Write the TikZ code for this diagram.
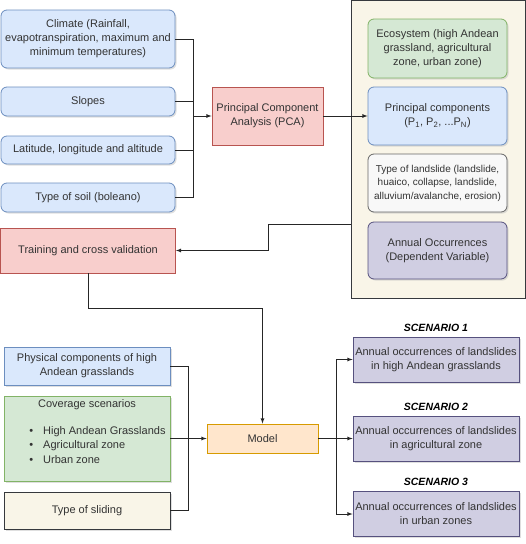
\documentclass[tikz,border=0pt]{standalone}
\usepackage{fontspec}
\setmainfont{Liberation Sans}
\usetikzlibrary{shadows}

\definecolor{blueFill}{HTML}{DAE8FC}
\definecolor{blueLine}{HTML}{6C8EBF}
\definecolor{greenFill}{HTML}{D5E8D4}
\definecolor{greenLine}{HTML}{82B366}
\definecolor{redFill}{HTML}{F8CECC}
\definecolor{redLine}{HTML}{B85450}
\definecolor{orangeFill}{HTML}{FFE6CC}
\definecolor{orangeLine}{HTML}{D79B00}
\definecolor{lilacFill}{HTML}{D0CEE2}
\definecolor{lilacLine}{HTML}{56517E}
\definecolor{paperFill}{HTML}{F9F5E8}
\definecolor{paperLine}{HTML}{36393D}
\definecolor{greyFill}{HTML}{F8F8F8}
\definecolor{greyLine}{HTML}{666666}
\definecolor{ink}{HTML}{333333}

\begin{document}
\begin{tikzpicture}[x = 1pt, y = -1pt, > = latex,
	box/.style = {draw, line width = 0.8pt, align = center, text = ink, inner sep = 2pt,
		font = \fontsize{11}{14}\selectfont},
	boxshadow/.style = {drop shadow = {shadow xshift = 1.5pt, shadow yshift = -1.5pt, fill = black!25}},
	softbox/.style = {box, boxshadow, rounded corners = 6pt},
	hardbox/.style = {box, boxshadow},
	link/.style = {line width = 0.8pt, draw = black!85}]

	\useasboundingbox (0, 0) rectangle (526, 544);

	% Input variables
	
	\begin{scope}[every node/.style = {softbox, fill = blueFill, draw = blueLine, minimum width = 174}]
	
		\node [minimum height = 58] (clim) at (88, 39) {Climate (Rainfall,\\evapotranspiration, maximum and\\minimum temperatures)};
		\node [minimum height = 29] (slope) at (88, 101.5) {Slopes};
		\node [minimum height = 28] (latlon) at (88, 150) {Latitude, longitude and altitude};
		\node [minimum height = 29] (soil) at (88, 197.5) {Type of soil (boleano)};
	
	\end{scope}

	% PCA
	
	\node [box, fill = redFill, draw = redLine, minimum width = 111, minimum height = 58] (pca) at (267.5, 116) {Principal Component\\Analysis (PCA)};
	
	\coordinate (join) at (193, 116);
	
	\begin{scope}[link]
	
		\draw (clim.east) -| (join);
		\draw (soil.east) -| (join);
		\draw (slope.east) -- (slope.east -| join);
		\draw (latlon.east) -- (latlon.east -| join);
		\draw [->] (join) -- (pca.west);
	
	\end{scope}
	
	% Panel of components
	
	\node [draw = paperLine, fill = paperFill, line width = 0.8pt, minimum width = 174, minimum height = 297.5, inner sep = 0] (panel) at (438, 149.25) {};
	
	\begin{scope}[every node/.style = {softbox, minimum width = 139}]
	
		\node [fill = greenFill, draw = greenLine, minimum height = 59] (eco) at (437.5, 48.5) {Ecosystem (high Andean\\grassland, agricultural\\zone, urban zone)};
		\node [fill = blueFill, draw = blueLine, minimum height = 58] (pc) at (437.5, 116) {Principal components\\(P\textsubscript{1}, P\textsubscript{2}, ...P\textsubscript{N})};
		\node [fill = greyFill, draw = greyLine, minimum height = 58, font = \fontsize{10}{13.5}\selectfont] (kind) at (437.5, 183) {Type of landslide (landslide,\\huaico, collapse, landslide,\\alluvium/avalanche, erosion)};
		\node [fill = lilacFill, draw = lilacLine, minimum height = 57] (occ) at (437.5, 250.5) {Annual Occurrences\\(Dependent Variable)};
	
	\end{scope}
	
	\draw [link, ->] (pca.east) -- (pc.west);

	% Training
	
	\node [box, fill = redFill, draw = redLine, minimum width = 175, minimum height = 45] (train) at (88, 250.5) {Training and cross validation};
	
	\coordinate (bend) at (268, 224);
	
	\draw [link, ->] (bend -| panel.west) -- (bend) |- (train.east);

	% Model and its inputs
	
	\node [box, fill = orangeFill, draw = orangeLine, minimum width = 111, minimum height = 29] (model) at (262.5, 438.5) {Model};
	
	\draw [link, ->] (train.south) -- ++(0, 35) -| (model.north);
	
	\begin{scope}[every node/.style = {hardbox, minimum width = 166}]
	
		\node [fill = blueFill, draw = blueLine, minimum height = 38] (phys) at (87, 366) {Physical components of high\\Andean grasslands};
		\node [fill = greenFill, draw = greenLine, minimum height = 85] (cover) at (87, 438.5) {};
		\node [fill = paperFill, draw = paperLine, minimum height = 37] (slide) at (87, 510.5) {Type of sliding};
	
	\end{scope}
	
	\node [box, draw = none, anchor = north] (coverhead) at ([yshift = -2pt] cover.north) {Coverage scenarios};
	\node [box, draw = none, anchor = north west, align = left, font = \fontsize{11}{14.5}\selectfont] (coverlist) at (27, 424)
		{\textbullet\hspace{10pt}High Andean Grasslands\\\textbullet\hspace{10pt}Agricultural zone\\\textbullet\hspace{10pt}Urban zone};
	
	\coordinate (merge) at (188, 438.5);
	
	\begin{scope}[link]
	
		\draw (phys.east) -| (merge);
		\draw (slide.east) -| (merge);
		\draw [->] (cover.east) -- (model.west);
	
	\end{scope}

	% Scenarios
	
	\begin{scope}[every node/.style = {hardbox, fill = lilacFill, draw = lilacLine, minimum width = 166, minimum height = 45}]
	
		\node (sce1) at (436, 359.5) {Annual occurrences of landslides\\in high Andean grasslands};
		\node (sce2) at (436, 438.5) {Annual occurrences of landslides\\in agricultural zone};
		\node (sce3) at (436, 514) {Annual occurrences of landslides\\in urban zones};
	
	\end{scope}
	
	\begin{scope}[every node/.style = {text = black, font = \fontsize{10.5}{13}\selectfont\bfseries\itshape, anchor = south, inner sep = 2pt}]
	
		\node (tag1) at ([yshift = 3pt] sce1.north) {SCENARIO 1};
		\node (tag2) at ([yshift = 3pt] sce2.north) {SCENARIO 2};
		\node (tag3) at ([yshift = 3pt] sce3.north) {SCENARIO 3};
	
	\end{scope}
	
	\coordinate (fork) at (336, 438.5);
	
	\begin{scope}[link]
	
		\draw (model.east) -- (fork);
		\draw [->] (fork) |- (sce1.west);
		\draw [->] (fork) |- (sce3.west);
		\draw [->] (fork) -- (sce2.west);
	
	\end{scope}

\end{tikzpicture}
\end{document}
